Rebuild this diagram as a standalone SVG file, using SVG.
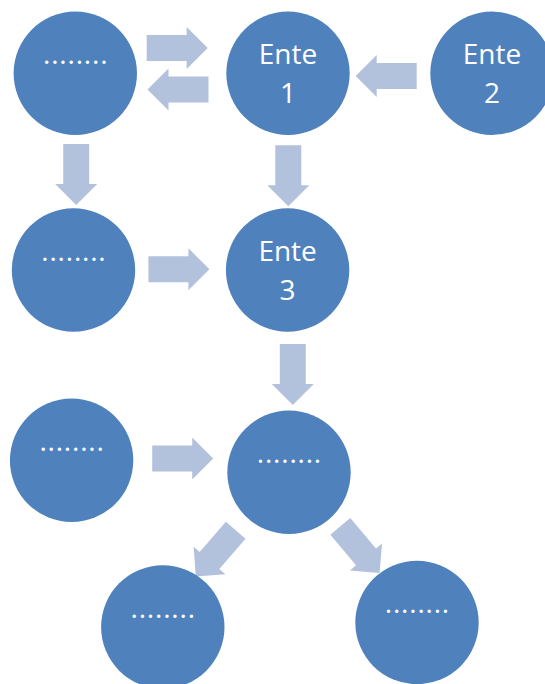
<svg xmlns="http://www.w3.org/2000/svg" xmlns:xlink="http://www.w3.org/1999/xlink" width="545" height="684" viewBox="0 0 545 684">
<style>
.node{fill:#4F81BD}
.lbl{fill:#FFFFFF;font-family:"Open Sans","Noto Sans",sans-serif;font-size:28px;text-anchor:middle}
.dots{fill:#FFFFFF;font-family:"Open Sans","Noto Sans",sans-serif;font-size:28px;text-anchor:middle;letter-spacing:0.8px}
.arr{fill:#B3C2DC}
</style>
<defs>
<path id="arrow" d="M0,-13 L40,-13 L40,-21 L61,0 L40,21 L40,13 L0,13 Z"/>
</defs>
<rect width="545" height="684" fill="#FFFFFF"/>
<g id="connectors" class="arr">
<use xlink:href="#arrow" transform="translate(146.7,48)"/>
<use xlink:href="#arrow" transform="translate(208.5,89.5) rotate(180)"/>
<use xlink:href="#arrow" transform="translate(416.7,76) rotate(180)"/>
<use xlink:href="#arrow" transform="translate(76.2,144) rotate(90)"/>
<use xlink:href="#arrow" transform="translate(288.3,145.3) rotate(90)"/>
<use xlink:href="#arrow" transform="translate(148.4,269.3)"/>
<use xlink:href="#arrow" transform="translate(292.8,344) rotate(90)"/>
<use xlink:href="#arrow" transform="translate(152.2,458.5)"/>
<use xlink:href="#arrow" transform="translate(235.7,530.3) rotate(130.9)"/>
<use xlink:href="#arrow" transform="translate(340.3,526.3) rotate(50)"/>
</g>
<g id="n1"><circle class="node" cx="75.3" cy="73.3" r="61.7"/><text class="dots" x="75.7" y="63.5">........</text></g>
<g id="ente1"><circle class="node" cx="288" cy="73.3" r="61.7"/><text class="lbl" x="288" y="64">Ente</text><text class="lbl" x="288" y="102.7">1</text></g>
<g id="ente2"><circle class="node" cx="492" cy="73.3" r="61.7"/><text class="lbl" x="492" y="64">Ente</text><text class="lbl" x="492" y="102.7">2</text></g>
<g id="n2"><circle class="node" cx="73.5" cy="270" r="61.7"/><text class="dots" x="73.9" y="260.8">........</text></g>
<g id="ente3"><circle class="node" cx="287.6" cy="270" r="61.7"/><text class="lbl" x="287.6" y="261">Ente</text><text class="lbl" x="287.6" y="300">3</text></g>
<g id="n3"><circle class="node" cx="71.6" cy="460.3" r="61.7"/><text class="dots" x="72" y="450.8">........</text></g>
<g id="n4"><circle class="node" cx="289" cy="472.3" r="61.7"/><text class="dots" x="289.4" y="462.5">........</text></g>
<g id="n5"><circle class="node" cx="162.8" cy="627" r="61.7"/><text class="dots" x="163.2" y="617.5">........</text></g>
<g id="n6"><circle class="node" cx="417" cy="622.5" r="61.7"/><text class="dots" x="417.4" y="613.2">........</text></g>
</svg>
